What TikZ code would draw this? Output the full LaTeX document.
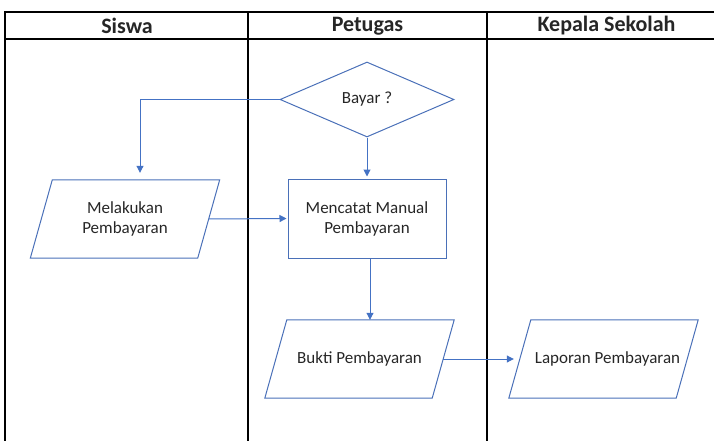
\documentclass[tikz,border=0pt]{standalone}
\usepackage{fontspec}
\setmainfont{Carlito}
\usetikzlibrary{shapes.geometric,arrows.meta,calc}
\definecolor{conn}{HTML}{4472C4}
\definecolor{outl}{HTML}{4A70B8}
\definecolor{txt}{HTML}{262626}
\begin{document}
\begin{tikzpicture}[x=1pt,y=-1pt,
  lane/.style={line width=1.2pt, draw=black},
  hdr/.style={font=\fontsize{22}{26}\selectfont\bfseries, text=txt, inner sep=0pt},
  lbl/.style={font=\fontsize{17}{20}\selectfont, text=txt, align=center},
  io/.style={rectangle, minimum width=167pt, minimum height=78pt, inner sep=0pt, lbl},
  ioline/.style={draw=outl, line width=1pt, line join=miter},
  proc/.style={rectangle, draw=outl, line width=1pt, minimum width=158pt, minimum height=79pt, inner sep=0pt, lbl},
  dec/.style={diamond, draw=outl, line width=1pt, minimum width=174pt, minimum height=75pt, inner sep=0pt, lbl},
  flow/.style={draw=conn, line width=1pt, -{Triangle[length=7pt,width=7pt]}}
]
\useasboundingbox (0,0) rectangle (714,441);
\draw[lane] (5,441) -- (5,12) -- (714,12);
\draw[lane] (5,39) -- (714,39);
\draw[lane] (248,12) -- (248,441);
\draw[lane] (487,12) -- (487,441);

\node[hdr] (hsiswa) at (127,26) {Siswa};
\node[hdr] (hpetugas) at (367.5,26) {Petugas};
\node[hdr] (hkepala) at (606.5,26) {Kepala Sekolah};

\node[dec] (bayar) at (367,99.5) {Bayar ?};
\node[io] (melakukan) at (125,219) {Melakukan\\Pembayaran};
\node[proc] (mencatat) at (367,218.5) {Mencatat Manual\\Pembayaran};
\node[io] (bukti) at (359.5,359) {Bukti Pembayaran};
\node[io] (laporan) at (603.5,359) {\hspace*{8pt}Laporan Pembayaran};

\foreach \n in {melakukan,bukti,laporan}
  \draw[ioline] ([xshift=11pt]\n.north west) -- ([xshift=11pt]\n.north east)
    -- ([xshift=-11pt]\n.south east) -- ([xshift=-11pt]\n.south west) -- cycle;

\draw[flow, shorten >=7pt] (bayar.west) -| ([xshift=15pt]melakukan.north);
\draw[flow, shorten >=1pt] (melakukan.east) -- (mencatat.west);
\draw[flow, shorten >=2pt] (bayar.south) -- (bayar.south |- mencatat.north);
\draw[flow] ([xshift=3pt]mencatat.south) -- ([xshift=3pt]mencatat.south |- bukti.north);
\draw[flow, shorten >=6pt] (bukti.east) -- (laporan.west);
\end{tikzpicture}
\end{document}
